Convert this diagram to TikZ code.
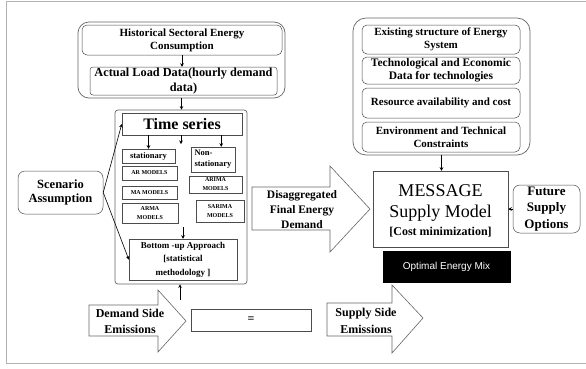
\documentclass[tikz,border=0pt]{standalone}
\usepackage{fontspec}
\setmainfont{Liberation Serif}
\newfontfamily\arialf{Liberation Sans}
\usetikzlibrary{arrows.meta,calc}
\newcommand\bx[7]{\node[#2, minimum width={#5-#3}, minimum height={#6-#4}] (#1) at ({(#3+#5)/2},{(#4+#6)/2}) {#7};}
\newcommand\fs[2]{\fontsize{#1}{#2}\selectfont}
\tikzset{
  x=1pt, y=-1pt,
  rbox/.style={draw=black!70, line width=0.5pt, rounded corners=5pt, fill=white, align=center, inner sep=0pt, font=\bfseries},
  sbox/.style={draw=black!70, line width=0.5pt, fill=white, align=center, inner sep=0pt, font=\bfseries},
  grp/.style={draw=black!60, line width=0.7pt, rounded corners=11pt, inner sep=0pt},
  conn/.style={draw=black, line width=0.6pt, -{Stealth[length=3.5pt,width=3.5pt]}},
  barrow/.style={draw=black!60, line width=0.6pt, fill=white},
  atext/.style={align=center, inner sep=0pt, font=\bfseries},
}
\begin{document}
\begin{tikzpicture}
\useasboundingbox (0,0) rectangle (586,368);
\fill[white] (0,0) rectangle (586,368);
\draw[black!30, line width=0.9pt] (586,1) -- (6.5,1) -- (6.5,363.5) -- (586,363.5);

% upper left group
\bx{lgrp}{grp}{78}{22}{285}{98}{}
\bx{hist}{rbox, font=\bfseries\fs{11}{13}}{82}{25}{282}{55}{Historical Sectoral Energy\\Consumption}
\bx{actual}{rbox, rounded corners=3pt, font=\bfseries\fs{12.3}{15}}{90}{67}{277}{95}{Actual Load Data(hourly demand\\data)}

% time series group
\bx{tsgrp}{grp, rounded corners=3pt}{115}{110}{247}{284}{}
\bx{ts}{sbox, font=\bfseries\fs{16}{18}}{122}{113}{242}{135}{Time series}
\bx{stat}{sbox, font=\bfseries\fs{8.5}{10}}{122}{149}{175}{163}{stationary}
\bx{ar}{sbox, font=\bfseries\fs{6}{7}}{122}{166}{177}{180}{AR MODELS}
\bx{ma}{sbox, font=\bfseries\fs{6}{7}}{122}{186}{177}{199}{MA MODELS}
\bx{arma}{sbox, font=\bfseries\fs{6}{9}}{122}{203}{178}{223}{ARMA\\MODELS}
\bx{nonst}{sbox, align=left, font=\bfseries\fs{8.5}{11}}{191}{147}{235}{172}{Non-\\stationary}
\bx{arima}{sbox, font=\bfseries\fs{6}{9}}{189}{176}{242}{193}{ARIMA\\MODELS}
\bx{sarima}{sbox, font=\bfseries\fs{6}{9}}{196}{200}{244}{222}{SARIMA\\MODELS}
\bx{bu}{sbox, font=\bfseries\fs{9}{13.5}}{129}{239}{237}{280}{Bottom -up Approach\\{}[statistical\\methodology ]}

% scenario
\bx{scen}{rbox, rounded corners=7pt, font=\bfseries\fs{12.5}{14}}{18}{171}{103}{214}{Scenario\\Assumption}

% right group
\bx{rgrp}{grp, rounded corners=13pt}{353}{18}{530}{155}{}
\bx{exist}{rbox, font=\bfseries\fs{11}{13}}{362}{25}{520}{54}{Existing structure of Energy\\System}
\bx{tech}{rbox, font=\bfseries\fs{11.5}{13}}{362}{57}{520}{84}{Technological and Economic\\Data for technologies}
\bx{res}{rbox, font=\bfseries\fs{11}{13}}{362}{88}{520}{118}{Resource availability and cost}
\bx{env}{rbox, font=\bfseries\fs{11}{13}}{362}{122}{520}{152}{Environment and Technical\\Constraints}

% message
\bx{msg}{sbox, font=\normalfont}{373}{171}{508}{247}{}
\node[atext, font=\fs{18}{20}] (msgt1) at (440.5,191) {MESSAGE};
\node[atext, font=\fs{18}{20}] (msgt2) at (440.5,213) {Supply Model};
\node[atext, font=\bfseries\fs{12}{14}] (msgt3) at (440.5,232) {{}[Cost minimization]};
\bx{fut}{rbox, rounded corners=7pt, font=\bfseries\fs{13}{16.5}}{513}{185}{580}{233}{Future\\Supply\\Options}
\bx{opt}{draw=black, fill=black, text=white, inner sep=0pt, font=\arialf\fs{10}{12}}{383}{251}{510}{282}{Optimal Energy Mix}

% block arrows
\draw[barrow] (252,187) -- (330,187) -- (330,166) -- (370,209) -- (330,252) -- (330,230) -- (252,230) -- cycle;
\node[atext, font=\bfseries\fs{11.5}{15}] (disag) at (302,210) {Disaggregated\\Final Energy\\Demand};

\draw[barrow] (89,305) -- (158,305) -- (158,290) -- (186,321) -- (158,352) -- (158,336) -- (89,336) -- cycle;
\node[atext, font=\bfseries\fs{12}{16}] (dem) at (130,321) {Demand Side\\Emissions};

\bx{eq}{sbox, font=\bfseries\fs{12}{14}}{191}{309}{311}{331}{=}

\draw[barrow] (327,303) -- (392,303) -- (392,285) -- (423,318) -- (392,353) -- (392,336) -- (327,336) -- cycle;
\node[atext, font=\bfseries\fs{12}{17}] (sup) at (366,321) {Supply Side\\Emissions};

% connectors
\coordinate (tsmid) at (181,144);
\coordinate (bumid) at (183,227);
\coordinate (upstart) at (180,300);
\draw[conn] (hist.south) -- (hist.south |- actual.north);
\draw[conn] (lgrp.south) -- (lgrp.south |- tsgrp.north);
\draw[conn] (ts.south -| stat.north) -- (stat.north);
\draw[conn] (ts.south -| tsmid) -- (tsmid);
\draw[conn] ([xshift=-14pt]nonst.north east |- ts.south) -- ([xshift=-14pt]nonst.north east);
\draw[conn] (bumid) -- (bumid |- bu.north);
\draw[conn] (scen.east) -- (ts.west);
\draw[conn] (scen.east) -- (bu.west);
\draw[conn] (upstart) -- (upstart |- tsgrp.south);
\draw[conn] (rgrp.south) -- (rgrp.south |- msg.north);
\draw[conn] (fut.west) -- (msg.east);
\end{tikzpicture}
\end{document}
